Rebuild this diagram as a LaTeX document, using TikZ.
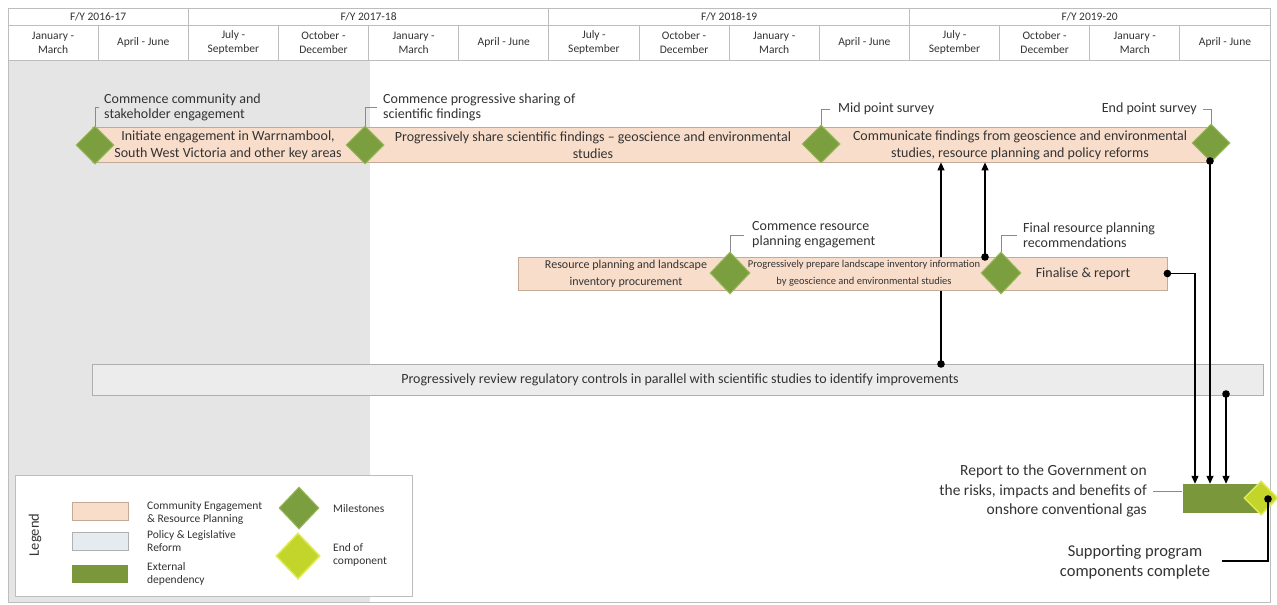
\documentclass[tikz,border=0pt]{standalone}
\usepackage{fontspec}
\setmainfont{Carlito}
\usetikzlibrary{shapes.geometric,arrows.meta}
\definecolor{txt}{HTML}{333333}
\definecolor{gridc}{HTML}{BDBDBD}
\definecolor{pastgray}{HTML}{E5E5E5}
\definecolor{peach}{HTML}{F9DDCB}
\definecolor{peachb}{HTML}{C4A898}
\definecolor{policy}{HTML}{ECECEC}
\definecolor{policyb}{HTML}{B0B0B0}
\definecolor{policysw}{HTML}{E5EBEF}
\definecolor{mile}{HTML}{7B9F3E}
\definecolor{mileb}{HTML}{98B85C}
\definecolor{endc}{HTML}{C3D52A}
\definecolor{endb}{HTML}{E0EA55}
\definecolor{ext}{HTML}{7A983B}
\definecolor{leadc}{HTML}{8A8A8A}
\begin{document}
\begin{tikzpicture}[x=1pt,y=-1pt,
  every node/.style={text=txt, inner sep=0pt},
  hdr/.style={font=\fontsize{11.5}{14}\selectfont, align=center},
  lbl/.style={font=\fontsize{14}{15}\selectfont, align=left},
  bandtxt/.style={font=\fontsize{14}{17}\selectfont, align=center},
  smalltxt/.style={font=\fontsize{10.5}{17}\selectfont, align=center},
  legtxt/.style={font=\fontsize{11.5}{13}\selectfont, align=left, anchor=west},
  gridline/.style={draw=gridc, line width=0.8pt},
  peachband/.style={rectangle, fill=peach, draw=peachb, line width=0.8pt},
  policyband/.style={rectangle, fill=policy, draw=policyb, line width=0.8pt},
  milestone/.style={diamond, aspect=1, fill=mile, draw=mileb, line width=1pt, minimum width=38pt, minimum height=38pt},
  endcomp/.style={diamond, aspect=1, fill=endc, draw=endb, line width=1.5pt, minimum width=34pt, minimum height=34pt},
  leader/.style={draw=leadc, line width=0.8pt},
  conn/.style={draw=black, line width=1.1pt, -{Triangle[length=8pt,width=7pt]}},
  plainconn/.style={draw=black, line width=1.1pt}
]
\useasboundingbox (0,0) rectangle (1277,605);
\fill[white] (0,0) rectangle (1277,605);

% shaded past period
\fill[pastgray] (8,60) rectangle (370,602);
% frame
\draw[gridline] (8,60) rectangle (1270,602);

% header
\draw[gridline, fill=white] (8,8) rectangle (1270,60);
\draw[gridline] (8,25) -- (1270,25);
\foreach \i in {1,...,13} \draw[gridline] ({8+90.143*\i},25) -- ({8+90.143*\i},60);
\foreach \i in {2,6,10} \draw[gridline] ({8+90.143*\i},8) -- ({8+90.143*\i},25);
\node[hdr] (fy1) at ({8+90.143*1},16.5) {F/Y 2016-17};
\node[hdr] (fy2) at ({8+90.143*4},16.5) {F/Y 2017-18};
\node[hdr] (fy3) at ({8+90.143*8},16.5) {F/Y 2018-19};
\node[hdr] (fy4) at ({8+90.143*12},16.5) {F/Y 2019-20};
\foreach \i/\t in {0/{January -\\March},1/{April - June},2/{July -\\September},3/{October -\\December},4/{January -\\March},5/{April - June},6/{July -\\September},7/{October -\\December},8/{January -\\March},9/{April - June},10/{July -\\September},11/{October -\\December},12/{January -\\March},13/{April - June}}
  \node[hdr] (q\i) at ({8+90.143*(\i+0.5)},42.5) {\t};

% connector behind row 2
\coordinate (c1s) at (941,364);

% row 1
\node[peachband, minimum width=1120pt, minimum height=35pt] (b1) at (652,144.5) {};
\draw[conn] (c1s) -- (c1s |- b1.south);
\node[bandtxt] (t1) at (228,145) {Initiate engagement in Warrnambool,\\South West Victoria and other key areas};
\node[bandtxt] (t2) at (593,145) {Progressively share scientific findings -- geoscience and environmental\\studies};
\node[bandtxt] (t3) at (1020,145) {Communicate findings from geoscience and environmental\\studies, resource planning and policy reforms};
\node[milestone] (m1) at (95,145) {};
\node[milestone] (m2) at (365,145) {};
\node[milestone] (m3) at (821,144) {};
\node[milestone] (m4) at (1211,143) {};

% row 1 callouts
\node[lbl, anchor=west] (l1) at (104,107) {Commence community and\\stakeholder engagement};
\node[lbl, anchor=west] (l2) at (383,107) {Commence progressive sharing of\\scientific findings};
\node[lbl, anchor=west] (l3) at (838,109) {Mid point survey};
\node[lbl, anchor=east] (l4) at (1197,109) {End point survey};
\draw[leader] (m1.north) |- ([xshift=-5pt]l1.west);
\draw[leader] (m2.north) |- ([xshift=-6pt]l2.west);
\draw[leader] (m3.north) |- ([xshift=-8pt]l3.west);
\draw[leader] (m4.north) |- ([xshift=6pt]l4.east);

% row 2
\node[peachband, minimum width=649pt, minimum height=33pt] (b2) at (842.5,273.5) {};
\node[smalltxt, font=\fontsize{12}{17}\selectfont] (t4) at (626,273.5) {Resource planning and landscape\\inventory procurement};
\node[smalltxt] (t5) at (864,273.5) {Progressively prepare landscape inventory information\\by geoscience and environmental studies};
\node[bandtxt] (t6) at (1083,273.5) {Finalise \& report};
\node[milestone, minimum width=40pt, minimum height=42pt] (m5) at (730,273) {};
\node[milestone, minimum width=40pt, minimum height=42pt] (m6) at (1001,273) {};
\node[lbl, anchor=west] (l5) at (752,235) {Commence resource\\planning engagement};
\node[lbl, anchor=west] (l6) at (1023,235) {Final resource planning\\recommendations};
\draw[leader] (m5.north) |- ([xshift=-8pt]l5.west);
\draw[leader] (m6.north) |- ([xshift=-6pt]l6.west);

% row 3
\node[policyband, minimum width=1171pt, minimum height=31pt] (b3) at (677.5,379.5) {};
\node[bandtxt] (t7) at (680,380) {Progressively review regulatory controls in parallel with scientific studies to identify improvements};

% external dependency
\node[rectangle, fill=ext, minimum width=80pt, minimum height=29pt] (ext) at (1222.5,498.5) {};
\node[endcomp] (m7) at (1261,498) {};

% connectors
\coordinate (c2s) at (985,257);
\draw[conn] (c2s) -- (c2s |- b1.south);
\coordinate (c3) at (1195,273.5);
\draw[conn] (b2.east) -- (c3) -- (c3 |- ext.north);
\coordinate (c4s) at (1210,161);
\draw[conn] (c4s) -- (c4s |- ext.north);
\coordinate (c5s) at (1226,394);
\draw[conn] (c5s) -- (c5s |- ext.north);
\coordinate (c6s) at (1268,499);
\node[font=\fontsize{16.5}{20}\selectfont, align=center] (sup) at (1135,562) {Supporting program\\components complete};
\coordinate (c6b) at (1268,561);
\draw[plainconn] (c6s) -- (c6b) -- ([xshift=12pt]sup.east |- c6b);
\node[font=\fontsize{15.5}{19.5}\selectfont, align=right, anchor=east] (rep) at (1147,491) {Report to the Government on\\the risks, impacts and benefits of\\onshore conventional gas};
\draw[leader] ([xshift=6pt]rep.east) -- (rep.east -| ext.west);
\foreach \p in {c1s,c2s,c4s,c5s,c6s} \fill[black] (\p) circle (3.8);
\fill[black] (b2.east) circle (3.8);

% legend
\draw[gridline, fill=white] (15,475) rectangle (412,596);
\node[font=\fontsize{14.5}{16}\selectfont, rotate=90] (legtitle) at (35,535) {Legend};
\node[peachband, minimum width=56pt, minimum height=18pt] (sw1) at (100,511) {};
\node[rectangle, fill=policysw, draw=policyb, line width=0.8pt, minimum width=56pt, minimum height=18pt] (sw2) at (100,541) {};
\node[rectangle, fill=ext, minimum width=56pt, minimum height=18pt] (sw3) at (100,573.5) {};
\node[legtxt] (lt1) at (147,513) {Community Engagement\\\& Resource Planning};
\node[legtxt] (lt2) at (147,541) {Policy \& Legislative\\Reform};
\node[legtxt] (lt3) at (147,573.5) {External\\dependency};
\node[milestone, minimum width=40pt, minimum height=42pt] (lm) at (299,508) {};
\node[endcomp, minimum width=44pt, minimum height=46pt] (le) at (298,556) {};
\node[legtxt] (lt4) at (333,509) {Milestones};
\node[legtxt] (lt5) at (333,555) {End of\\component};
\end{tikzpicture}
\end{document}
